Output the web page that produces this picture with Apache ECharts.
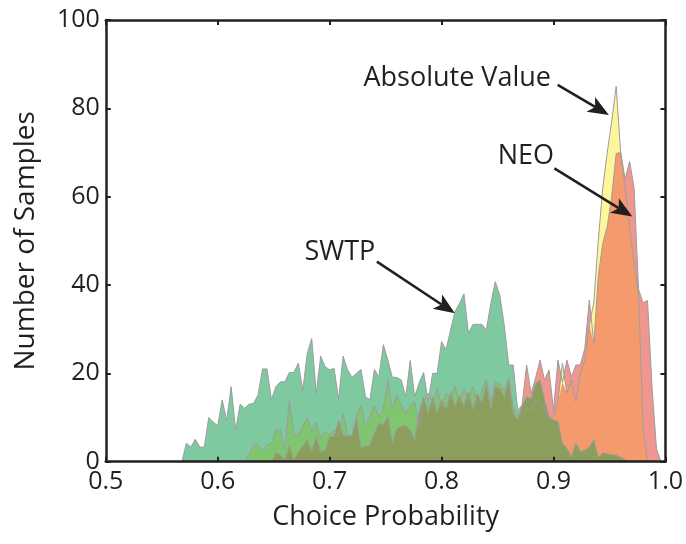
<!DOCTYPE html>
<html>
<head>
<meta charset="utf-8">
<script src="https://cdn.jsdelivr.net/npm/echarts@6/dist/echarts.min.js"></script>
<style>
  html, body { margin: 0; padding: 0; background: #ffffff; }
  #chart { width: 686px; height: 544px; }
</style>
</head>
<body>
<div id="chart"></div>
<script>
// Histogram bin centres (choice probability), bin width 0.004, from 0.564 to 1.000
const binStart = 0.564;
const binWidth = 0.004;
const binCount = 110;
const probability = Array.from({ length: binCount }, (_, i) => +(binStart + i * binWidth).toFixed(3));

// Number of samples per bin
const swtpCounts = [
  0, 0, 4.2, 3.3, 5.1, 3.3, 3.3, 10, 9, 8.1,
  14, 9.3, 17, 7.2, 13, 12.1, 13, 13.2, 15.1, 21,
  21, 14.1, 17, 18.1, 18.1, 20.2, 20.2, 22.3, 16.2, 24.5,
  27.9, 15.5, 23.9, 21.5, 20.8, 21.1, 14.1, 23.9, 20.8, 19.1,
  20, 20.9, 14.7, 14, 20.9, 19.2, 26.5, 23, 19.1, 19.1,
  18.5, 14.7, 22.9, 14.7, 17.9, 20.2, 13.6, 20, 20, 27.2,
  25.3, 29.8, 34, 35.8, 38, 29, 31.1, 31.1, 31.1, 29.8,
  35.8, 40.8, 37.7, 30.9, 21.9, 21.9, 11.7, 12.8, 14.7, 14.2,
  17.7, 18.5, 14, 10.2, 9.4, 9.1, 4.2, 3, 1.1, 4.2,
  2.3, 2.6, 3.3, 5, 1, 2, 1.8, 1.5, 1.5, 1,
  0.5, 0, 0, 0, 0, 0, 0, 0, 0, 0
];
const absoluteValueCounts = [
  0, 0, 0, 0, 0, 0, 0, 0, 0, 0,
  0, 0, 0, 0, 0, 0, 1.5, 3.9, 3.9, 2.3,
  3.9, 4.1, 7.2, 7.2, 2.6, 14, 6, 6, 7.9, 10,
  6.8, 8.9, 5.3, 6.8, 6, 7.2, 5.8, 10.9, 6, 6,
  10.2, 12.8, 8.1, 10.2, 12.8, 10.2, 12, 18.6, 11.7, 15.1,
  12.8, 10.9, 12.8, 13.7, 7.9, 13.6, 15.5, 13, 16.5, 12.5,
  15.5, 14, 17, 13.5, 16.5, 14, 17, 13, 16, 18.5,
  13.5, 18, 17.5, 16, 19, 12, 10.5, 11, 12, 11.5,
  14, 13.5, 12, 9.5, 10.2, 13.6, 22.3, 15.5, 18.5, 13.6,
  20, 23, 31, 36, 50, 62, 70, 77, 85, 70,
  62, 53, 45, 38, 8, 0, 0, 0, 0, 0
];
const neoCounts = [
  0, 0, 0, 0, 0, 0, 0, 0, 0, 0,
  0, 0, 0, 0, 0, 0, 0, 0, 0, 0,
  0, 0, 2, 1.5, 0.4, 3.8, 0.4, 2.3, 3.5, 5.1,
  2.3, 5.7, 2.3, 2.6, 5.7, 5.7, 9.4, 6, 5.8, 6,
  9.8, 3, 3.5, 3.8, 6.4, 8.7, 8.3, 10.2, 4.2, 7.5,
  7.9, 8.3, 7, 4.9, 11.3, 14.7, 10.9, 14.7, 10.9, 14,
  11.7, 15.6, 12.5, 15.1, 12.5, 15.8, 11.7, 15.4, 13.2, 17.7,
  11.7, 17, 16.6, 14.7, 18.5, 10.9, 9.4, 13, 21.9, 15.5,
  19, 23, 18.5, 20.8, 11.7, 23, 18, 23, 19.2, 21.9,
  21.9, 25.7, 36.6, 26.8, 42, 49.4, 53.2, 60, 69.8, 70,
  64, 68, 62, 39, 36, 36.5, 17, 3, 0, 0
];

// Axis ticks
const xTicks = [0.5, 0.6, 0.7, 0.8, 0.9, 1.0];
const yTicks = [0, 20, 40, 60, 80, 100];

// Annotations (text and arrow, in data coordinates)
const annotationText = ['Absolute Value', 'NEO', 'SWTP'];
const annotationAt = [[0.814, 86.9], [0.8753, 69.2], [0.7091, 47.3]];
const arrowFrom = [[0.9037, 85.3], [0.9008, 66.4], [0.7422, 45.3]];
const arrowTo = [[0.9495, 78.5], [0.9704, 55.5], [0.8119, 33.6]];

const FONT = 'Open Sans';
const INK = '#231f20';
const colors = {
  swtp: '#7fc9a0',
  av: '#fff59b',
  neo: '#f1968f',
  avNeo: '#f49a6c',
  swtpAv: '#80c56f',
  swtpNeo: '#8c9e5c',
  outline: '#9c9c9c'
};

const pairs = vals => probability.map((x, i) => [x, vals[i]]);
const minOf = (a, b) => a.map((v, i) => Math.min(v, b[i]));

function fill(name, vals, color) {
  return {
    name, type: 'line', data: pairs(vals), symbol: 'none', showSymbol: false,
    lineStyle: { width: 0, opacity: 0 },
    areaStyle: { color, opacity: 1, origin: 'start' },
    silent: true, animation: false, z: 2
  };
}
function outline(name, vals) {
  return {
    name: name + ' outline', type: 'line', data: pairs(vals), symbol: 'none', showSymbol: false,
    lineStyle: { width: 1, color: colors.outline },
    silent: true, animation: false, z: 3
  };
}

function renderArrow(params, api) {
  const p1 = api.coord([api.value(0), api.value(1)]);
  const p2 = api.coord([api.value(2), api.value(3)]);
  const dx = p2[0] - p1[0], dy = p2[1] - p1[1];
  const len = Math.sqrt(dx * dx + dy * dy);
  const ux = dx / len, uy = dy / len;
  const nx = -uy, ny = ux;
  const headLen = 21, headHalf = 8.5, notch = 5;
  const base = [p2[0] - ux * headLen, p2[1] - uy * headLen];
  const inner = [p2[0] - ux * (headLen - notch), p2[1] - uy * (headLen - notch)];
  return {
    type: 'group',
    children: [
      {
        type: 'line',
        shape: { x1: p1[0], y1: p1[1], x2: inner[0], y2: inner[1] },
        style: { stroke: INK, lineWidth: 2.5 }
      },
      {
        type: 'polygon',
        shape: { points: [
          p2,
          [base[0] + nx * headHalf, base[1] + ny * headHalf],
          inner,
          [base[0] - nx * headHalf, base[1] - ny * headHalf]
        ] },
        style: { fill: INK }
      }
    ]
  };
}

const chart = echarts.init(document.getElementById('chart'), null, { renderer: 'canvas' });

const axisCommon = {
  axisLine: { show: true, onZero: false, lineStyle: { color: INK, width: 2.5 } },
  axisTick: { show: true, inside: true, length: 5, lineStyle: { color: INK, width: 2 } },
  splitLine: { show: false },
  z: 10
};

chart.setOption({
  backgroundColor: '#ffffff',
  animation: false,
  grid: { left: 105.8, right: 17.7, top: 20, bottom: 82.3, containLabel: false },
  xAxis: [
    Object.assign({}, axisCommon, {
      type: 'value', min: xTicks[0], max: xTicks[xTicks.length - 1], interval: 0.1,
      position: 'bottom',
      name: 'Choice Probability', nameLocation: 'middle', nameGap: 42,
      nameTextStyle: { fontFamily: FONT, fontSize: 27, color: INK },
      axisLabel: { show: true, margin: 8, fontFamily: FONT, fontSize: 25, color: INK,
        formatter: v => v.toFixed(1) }
    }),
    Object.assign({}, axisCommon, {
      type: 'value', min: xTicks[0], max: xTicks[xTicks.length - 1], interval: 0.1,
      position: 'top', axisLabel: { show: false }
    })
  ],
  yAxis: [
    Object.assign({}, axisCommon, {
      type: 'value', min: yTicks[0], max: yTicks[yTicks.length - 1], interval: 20,
      position: 'left',
      name: 'Number of Samples', nameLocation: 'middle', nameGap: 66, nameRotate: 90,
      nameTextStyle: { fontFamily: FONT, fontSize: 28, color: INK },
      axisLabel: { show: true, margin: 6, fontFamily: FONT, fontSize: 25, color: INK }
    }),
    Object.assign({}, axisCommon, {
      type: 'value', min: yTicks[0], max: yTicks[yTicks.length - 1], interval: 20,
      position: 'right', axisLabel: { show: false }
    })
  ],
  series: [
    fill('NEO', neoCounts, colors.neo),
    fill('Absolute Value', absoluteValueCounts, colors.av),
    fill('AV∩NEO', minOf(absoluteValueCounts, neoCounts), colors.avNeo),
    fill('SWTP', swtpCounts, colors.swtp),
    fill('SWTP∩AV', minOf(swtpCounts, absoluteValueCounts), colors.swtpAv),
    fill('SWTP∩NEO', minOf(swtpCounts, neoCounts), colors.swtpNeo),
    outline('SWTP', swtpCounts),
    outline('Absolute Value', absoluteValueCounts),
    outline('NEO', neoCounts),
    {
      name: 'arrows', type: 'custom', silent: true, z: 6, animation: false,
      renderItem: renderArrow,
      data: arrowFrom.map((f, i) => [f[0], f[1], arrowTo[i][0], arrowTo[i][1]])
    },
    {
      name: 'labels', type: 'scatter', symbolSize: 0, silent: true, z: 6, animation: false,
      itemStyle: { opacity: 1 },
      data: annotationText.map((t, i) => ({ name: t, value: annotationAt[i] })),
      label: { show: true, position: 'inside', formatter: p => p.name,
        fontFamily: FONT, fontSize: 27, color: INK, opacity: 1 }
    }
  ]
});
</script>
</body>
</html>
